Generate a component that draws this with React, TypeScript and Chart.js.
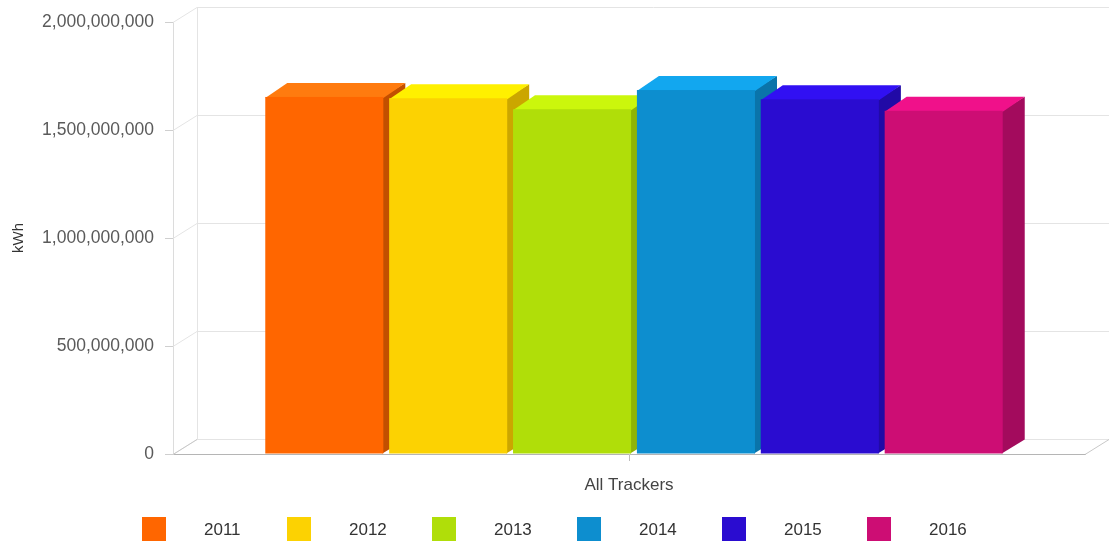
import React, { useEffect, useRef } from 'react';
import { Chart, registerables } from 'chart.js';

Chart.register(...registerables);

const categories = ['All Trackers'];
const years = ['2011', '2012', '2013', '2014', '2015', '2016'];
const values = [1653000000, 1647000000, 1596000000, 1685000000, 1642000000, 1589000000];
const yTicks = [0, 500000000, 1000000000, 1500000000, 2000000000];

const frontColors = ['#FF6600', '#FCD202', '#B0DE09', '#0D8ECF', '#2A0CD0', '#CD0D74'];
const topColors = ['#FF7B0F', '#FFF000', '#CBF70C', '#12A7EF', '#3110F3', '#F0118A'];
const sideColors = ['#C24F00', '#CBA600', '#8FB407', '#0A74AA', '#210AA6', '#A30B5D'];

const FONT = '"Liberation Sans", Arial, Helvetica, sans-serif';
const WALL_DX = 24;
const WALL_DY = -15;
const BAR_DX = 22;
const BAR_DY = -14;
const BAR_SHIFT = 5;

const threeD = {
  id: 'threeD',
  beforeDatasetsDraw(chart: any) {
    const { ctx, chartArea, scales } = chart;
    const { left, right, top, bottom } = chartArea;
    const y = scales.y;
    ctx.save();
    ctx.lineWidth = 1;
    ctx.strokeStyle = '#e4e4e4';
    for (const v of yTicks) {
      const py = Math.round(y.getPixelForValue(v)) + 0.5;
      ctx.beginPath();
      ctx.moveTo(left, py);
      ctx.lineTo(left + WALL_DX, py + WALL_DY);
      ctx.lineTo(right + WALL_DX + 40, py + WALL_DY);
      ctx.stroke();
    }
    ctx.beginPath();
    ctx.moveTo(left + WALL_DX + 0.5, top + WALL_DY);
    ctx.lineTo(left + WALL_DX + 0.5, bottom + WALL_DY);
    ctx.stroke();
    ctx.strokeStyle = '#c8c8c8';
    ctx.beginPath();
    ctx.moveTo(left, bottom + 0.5);
    ctx.lineTo(left + WALL_DX, bottom + WALL_DY + 0.5);
    ctx.moveTo(right, bottom + 0.5);
    ctx.lineTo(right + WALL_DX, bottom + WALL_DY + 0.5);
    ctx.stroke();

    chart.data.datasets.forEach((_ds: any, i: number) => {
      const meta = chart.getDatasetMeta(i);
      meta.data.forEach((el: any) => {
        const p = el.getProps(['x', 'y', 'base', 'width'], true);
        const l = p.x - p.width / 2 + BAR_SHIFT;
        const r = p.x + p.width / 2 + BAR_SHIFT;
        const t = p.y;
        const b = p.base;
        ctx.fillStyle = sideColors[i];
        ctx.beginPath();
        ctx.moveTo(r - 1, t);
        ctx.lineTo(r + BAR_DX, t + BAR_DY);
        ctx.lineTo(r + BAR_DX, b + BAR_DY);
        ctx.lineTo(r - 1, b);
        ctx.closePath();
        ctx.fill();
        ctx.fillStyle = topColors[i];
        ctx.beginPath();
        ctx.moveTo(l, t + 1);
        ctx.lineTo(l + BAR_DX, t + BAR_DY);
        ctx.lineTo(r + BAR_DX, t + BAR_DY);
        ctx.lineTo(r, t + 1);
        ctx.closePath();
        ctx.fill();
        ctx.fillStyle = frontColors[i];
        ctx.fillRect(l, t, r - l, b - t);
      });
    });
    ctx.restore();
    return false;
  },
};

const legendPlugin = {
  id: 'customLegend',
  afterDraw(chart: any) {
    const { ctx, width } = chart;
    const box = 24;
    const gap = 38;
    const pitch = 145;
    ctx.save();
    ctx.font = `17px ${FONT}`;
    const n = chart.data.datasets.length;
    const lastW = ctx.measureText(chart.data.datasets[n - 1].label).width;
    const total = (n - 1) * pitch + box + gap + lastW;
    let x = Math.round((width - total) / 2);
    const yTop = 517;
    chart.data.datasets.forEach((ds: any, i: number) => {
      ctx.fillStyle = frontColors[i];
      ctx.fillRect(x, yTop, box, box);
      ctx.fillStyle = '#333333';
      ctx.textBaseline = 'middle';
      ctx.textAlign = 'left';
      ctx.fillText(ds.label, x + box + gap, yTop + box / 2 + 1);
      x += pitch;
    });
    ctx.restore();
  },
};

export default function App() {
  const ref = useRef<HTMLCanvasElement>(null);
  useEffect(() => {
    if (!ref.current) return;
    const chart = new Chart(ref.current, {
      type: 'bar',
      data: {
        labels: categories,
        datasets: years.map((yr, i) => ({
          label: yr,
          data: [values[i]],
          backgroundColor: frontColors[i],
          categoryPercentage: 0.815,
          barPercentage: 0.953,
        })),
      },
      options: {
        animation: false,
        responsive: true,
        maintainAspectRatio: false,
        layout: { padding: { top: 22, right: 24, left: 0, bottom: 0 } },
        plugins: { legend: { display: false }, tooltip: { enabled: false } },
        scales: {
          x: {
            grid: { display: true, drawOnChartArea: false, offset: false, tickLength: 7, color: '#bdbdbd' },
            border: { display: true, color: '#b5b5b5' },
            ticks: { font: { family: FONT, size: 17 }, color: '#444444', padding: 14 },
            afterFit: (s: any) => {
              s.height = 88;
            },
          },
          y: {
            min: 0,
            max: 2000000000,
            afterBuildTicks: (s: any) => {
              s.ticks = yTicks.map((v) => ({ value: v }));
            },
            grid: { display: true, drawOnChartArea: false, tickLength: 8, color: '#cfcfcf' },
            border: { display: true, color: '#dcdcdc' },
            ticks: {
              font: { family: FONT, size: 17.5 },
              color: '#5a5a5a',
              padding: 11,
              callback: (v: any) => Number(v).toLocaleString('en-US'),
            },
            title: {
              display: true,
              text: 'kWh',
              font: { family: FONT, size: 15 },
              color: '#333333',
              padding: { top: 10, bottom: 0 },
            },
            afterFit: (s: any) => {
              s.width = 173;
            },
          },
        },
      },
      plugins: [threeD, legendPlugin],
    });
    return () => chart.destroy();
  }, []);
  return (
    <div style={{ position: 'fixed', left: 0, top: 0, width: 1109, height: 542, background: '#fff' }}>
      <canvas ref={ref} />
    </div>
  );
}
